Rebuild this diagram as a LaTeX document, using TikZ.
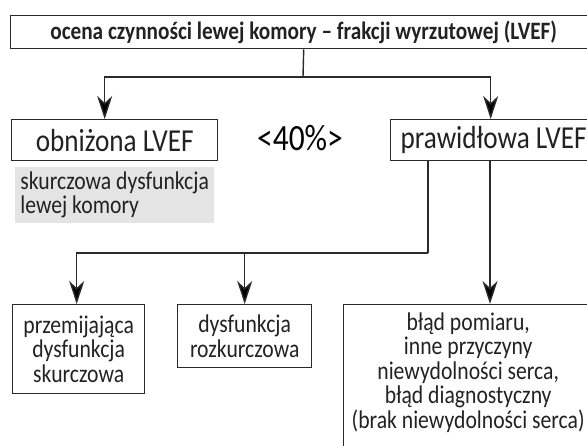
\documentclass[tikz,border=0pt]{standalone}
\usepackage{fontspec}
\setmainfont{Carlito}[FakeStretch=0.85]
\usetikzlibrary{arrows.meta}
\definecolor{ink}{HTML}{222222}
\definecolor{wire}{HTML}{2A2A2A}
\definecolor{shade}{HTML}{E4E4E4}
\newcommand{\bigtxt}{\fontsize{32}{36}\selectfont}
\newcommand{\smalltxt}{\fontsize{25.5}{24.5}\selectfont}
\begin{document}
\begin{tikzpicture}[x=1pt,y=-1pt,
  box/.style={draw=wire, line width=1.4pt, inner sep=0pt, text=ink, align=center},
  link/.style={draw=wire, line width=1.4pt},
  arrow/.style={link, -{Stealth[length=23pt,width=15pt,inset=7pt,fill=black]}},
  note/.style={fill=shade, inner xsep=4pt, inner ysep=0pt, text=ink, align=left}]
\useasboundingbox (0,0) rectangle (587,446);
\clip (0,0) rectangle (587,446);

% top level
\node[box, anchor=north west, minimum width=586pt, minimum height=33pt,
      font=\fontsize{25}{28}\selectfont\bfseries] (top) at (10,15)
  {ocena czynności lewej komory – frakcji wyrzutowej (LVEF)};

% second level
\node[box, anchor=north west, minimum width=206pt, minimum height=41pt,
      font=\bigtxt] (low) at (11,119) {obniżona LVEF};
\node[text=black, font=\fontsize{37}{40}\selectfont] (cut) at (300,138) {<40\%>};
\node[box, anchor=north west, minimum width=206pt, minimum height=41pt,
      font=\bigtxt] (norm) at (390,119) {prawidłowa LVEF};
\node[note, anchor=north west, minimum width=199pt, minimum height=56pt,
      font=\fontsize{25.5}{24}\selectfont] (sys) at (15,167)
  {skurczowa dysfunkcja\\lewej komory};

% third level
\node[box, anchor=north west, minimum width=132pt, minimum height=89pt,
      font=\smalltxt] (b1) at (12,304)
  {przemijająca\\dysfunkcja\\skurczowa};
\node[box, anchor=north west, minimum width=134pt, minimum height=63pt,
      font=\smalltxt] (b2) at (177,304)
  {dysfunkcja\\rozkurczowa};
\node[box, anchor=north west, minimum width=249pt, inner ysep=8pt,
      text depth=120pt, font=\smalltxt] (b3) at (343,304)
  {błąd pomiaru,\\inne przyczyny\\niewydolności serca,\\błąd diagnostyczny\\(brak niewydolności serca)};

% connectors
\coordinate (split) at (303,77);
\coordinate (fork) at (428,253);
\draw[link] (top.south) -- (split);
\draw[arrow] (split) -| ([xshift=-10pt]low.north);
\draw[arrow] (split) -| ([xshift=-3pt]norm.north);
\draw[link] (norm.south -| fork) -- (fork);
\draw[arrow] (fork) -| ([xshift=-2pt]b1.north);
\draw[arrow] (fork) -| (b2.north);
\draw[arrow] (norm.south -| 490,0) -- (b3.north -| 490,0);
\end{tikzpicture}
\end{document}
